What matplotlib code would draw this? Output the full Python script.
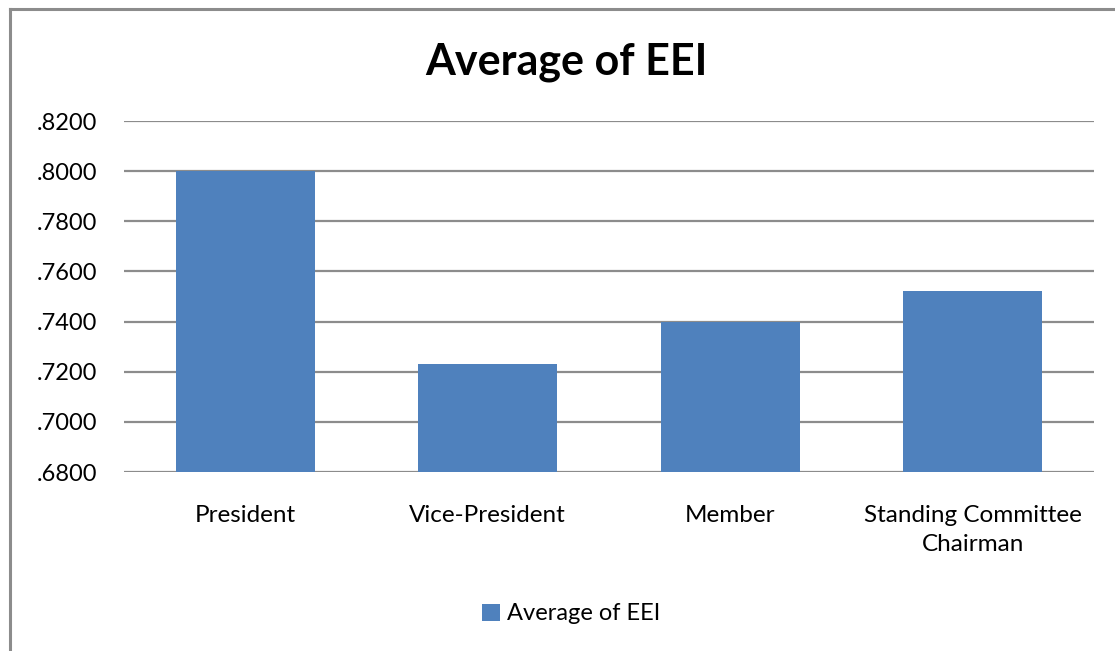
import matplotlib
matplotlib.use("Agg")
import matplotlib.pyplot as plt
from matplotlib.lines import Line2D
from matplotlib.ticker import FuncFormatter

plt.rcParams['font.family'] = ['Lato', 'DejaVu Sans']

categories = ["President", "Vice-President", "Member", "Standing Committee\nChairman"]
eei_avg = [0.8000, 0.7230, 0.7400, 0.7520]
series_name = "Average of EEI"
y_ticks = [0.68, 0.70, 0.72, 0.74, 0.76, 0.78, 0.80, 0.82]

W, H = 1115, 651
fig = plt.figure(figsize=(W / 100, H / 100), dpi=100)
fig.patch.set_facecolor("white")

# chart area frame (left and top edges visible)
frame_col = "#8c8c8c"
fig.add_artist(Line2D([9.5 / W, 9.5 / W], [0, 1 - 9 / H], transform=fig.transFigure,
                      color=frame_col, lw=2.2))
fig.add_artist(Line2D([9.5 / W, 1], [1 - 9 / H, 1 - 9 / H], transform=fig.transFigure,
                      color=frame_col, lw=2.2))

left, right, top, bottom = 124, 1094, 121, 472
ax = fig.add_axes([left / W, 1 - bottom / H, (right - left) / W, (bottom - top) / H])

bar_col = "#4f81bd"
x = range(len(categories))
ax.bar(x, [v - 0.68 for v in eei_avg], bottom=0.68, width=0.573, color=bar_col,
       zorder=3, label=series_name)

ax.set_xlim(-0.5, len(categories) - 0.5)
ax.set_ylim(0.68, 0.82)
ax.set_yticks(y_ticks)
ax.yaxis.set_major_formatter(FuncFormatter(lambda v, p: ("%.4f" % v).lstrip("0")))
ax.set_xticks(list(x))
ax.set_xticklabels(categories, fontsize=17.5, linespacing=1.45)
ax.tick_params(axis="y", labelsize=17, length=0, pad=19)
ax.tick_params(axis="x", length=0, pad=24)
ax.grid(axis="y", color="#8c8c8c", lw=1.6, zorder=0)
for s in ax.spines.values():
    s.set_visible(False)
for t in ax.get_yticklabels() + ax.get_xticklabels():
    t.set_color("black")

fig.text(566 / W, 1 - 62 / H, "Average of EEI", ha="center", va="center",
         fontsize=31, fontweight="bold")

leg = fig.legend(loc="center", bbox_to_anchor=(571 / W, 1 - 614 / H), frameon=False,
                 fontsize=17, handlelength=0.75, handleheight=0.75,
                 handletextpad=0.3, borderpad=0)

fig.savefig("out.png", dpi=100)
